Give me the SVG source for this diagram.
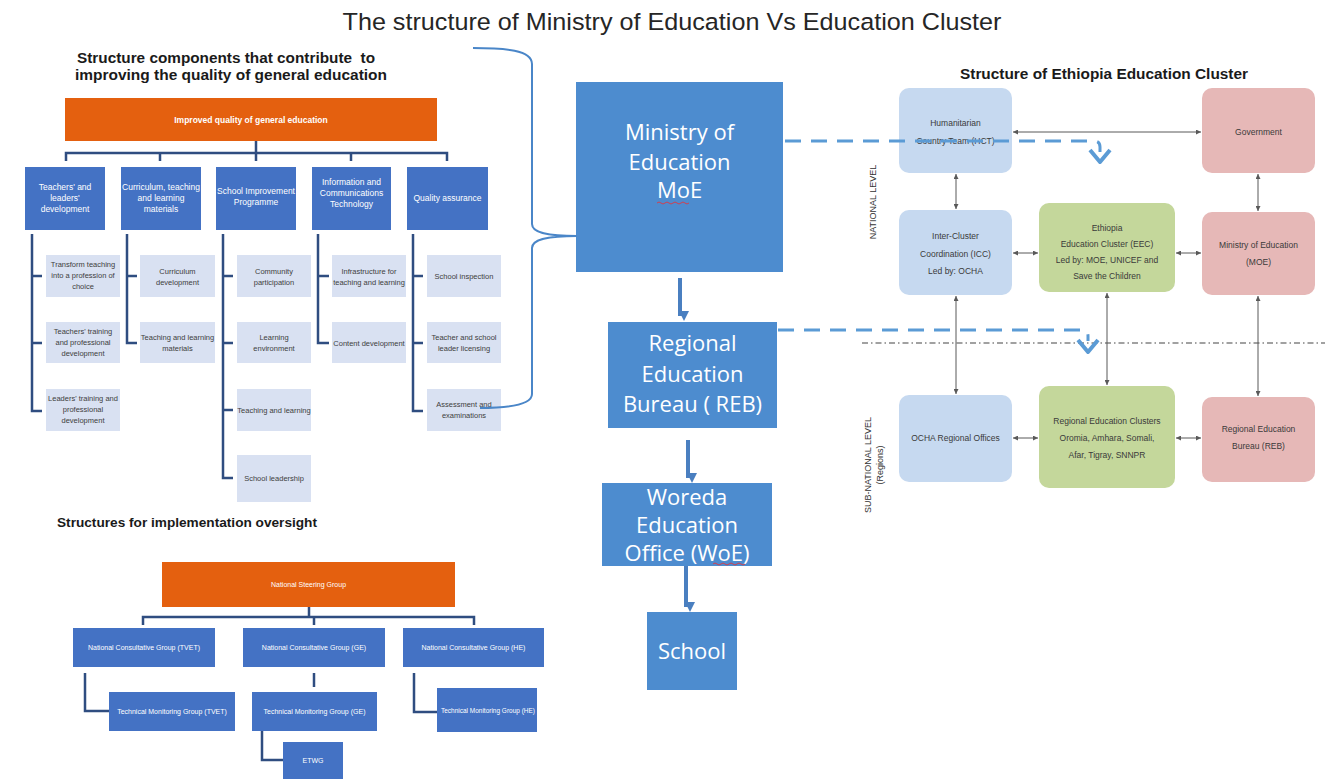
<svg xmlns="http://www.w3.org/2000/svg" width="1341" height="783" viewBox="0 0 1341 783">
<style>
.t{font-family:"Liberation Sans",Arial,sans-serif}
.title{font-size:24.5px;fill:#262626}
.hdr{font-size:14px;font-weight:bold;fill:#1a1a1a}
.or{fill:#e4600f}
.bb{fill:#4472c4}
.sb{fill:#d9e1f2}
.wt{font-size:8.5px;fill:#fff;text-anchor:middle}
.wto{font-size:8.5px;fill:#fff;text-anchor:middle;font-weight:bold}
.st{font-size:7.5px;fill:#404040;text-anchor:middle}
.ow{font-size:7px;fill:#fff;text-anchor:middle}
.cb{fill:#4d8ccf}
.ct{font-family:"Open Sans","Liberation Sans",sans-serif;font-size:22px;fill:#fff;text-anchor:middle}
.lb{fill:#c6d9f0}
.gr{fill:#c4d79b}
.pk{fill:#e6b8b7}
.rt{font-size:8.5px;fill:#3a3a3a;text-anchor:middle}
.lvl{font-size:9px;fill:#333;text-anchor:middle}
.tree{stroke:#2f4d80;stroke-width:2.5;fill:none}
.thin{stroke:#595959;stroke-width:1;fill:none;marker-start:url(#ah);marker-end:url(#ah)}
.dash{stroke:#5b9bd5;stroke-width:3;fill:none;stroke-dasharray:16 10}
.chev{stroke:#5b9bd5;stroke-width:4;fill:none;stroke-linejoin:round}
.down{stroke:#4a7fc0;stroke-width:4;fill:none}
</style>
<defs>
<marker id="ah" viewBox="0 0 10 10" refX="10" refY="5" markerWidth="5" markerHeight="5" orient="auto-start-reverse" markerUnits="userSpaceOnUse">
<path d="M0,0 L10,5 L0,10 z" fill="#595959"/>
</marker>
<marker id="dn" viewBox="0 0 10 10" refX="5" refY="9" markerWidth="12" markerHeight="10" orient="auto" markerUnits="userSpaceOnUse">
<path d="M0,0 L10,5 L0,10 z" fill="#4a7fc0"/>
</marker>
</defs>
<rect width="1341" height="783" fill="#fff"/>

<text class="t title" x="672" y="30" text-anchor="middle" textLength="659" lengthAdjust="spacingAndGlyphs">The structure of Ministry of Education Vs Education Cluster</text>

<!-- Left header -->
<text class="t hdr" x="77" y="63" xml:space="preserve" textLength="298" lengthAdjust="spacingAndGlyphs">Structure components that contribute  to</text>
<text class="t hdr" x="75" y="80" textLength="312" lengthAdjust="spacingAndGlyphs">improving the quality of general education</text>

<!-- Left tree nodes -->
<g id="n-improved"><rect class="or" x="65" y="98" width="372" height="43"/><text class="t wto" x="251" y="123">Improved quality of general education</text></g>

<g id="n-col1"><rect class="bb" x="25" y="167" width="80" height="63"/>
<text class="t wt" x="65" y="190">Teachers' and</text><text class="t wt" x="65" y="201">leaders'</text><text class="t wt" x="65" y="212">development</text></g>
<g id="n-col2"><rect class="bb" x="121" y="167" width="80" height="63"/>
<text class="t wt" x="161" y="190">Curriculum, teaching</text><text class="t wt" x="161" y="201">and learning</text><text class="t wt" x="161" y="212">materials</text></g>
<g id="n-col3"><rect class="bb" x="216" y="167" width="80" height="63"/>
<text class="t wt" x="256" y="194">School Improvement</text><text class="t wt" x="256" y="205">Programme</text></g>
<g id="n-col4"><rect class="bb" x="312" y="167" width="79" height="63"/>
<text class="t wt" x="351.5" y="185">Information and</text><text class="t wt" x="351.5" y="196">Communications</text><text class="t wt" x="351.5" y="207">Technology</text></g>
<g id="n-col5"><rect class="bb" x="407" y="167" width="81" height="63"/>
<text class="t wt" x="447.5" y="201">Quality assurance</text></g>

<g id="n-c1a"><rect class="sb" x="46" y="255" width="74" height="42"/><text class="t st" x="83" y="267">Transform teaching</text><text class="t st" x="83" y="278">into a profession of</text><text class="t st" x="83" y="289">choice</text></g>
<g id="n-c1b"><rect class="sb" x="46" y="322" width="74" height="41"/><text class="t st" x="83" y="334">Teachers' training</text><text class="t st" x="83" y="345">and professional</text><text class="t st" x="83" y="356">development</text></g>
<g id="n-c1c"><rect class="sb" x="46" y="389" width="74" height="42"/><text class="t st" x="83" y="401">Leaders' training and</text><text class="t st" x="83" y="412">professional</text><text class="t st" x="83" y="423">development</text></g>

<g id="n-c2a"><rect class="sb" x="140" y="255" width="75" height="42"/><text class="t st" x="177.5" y="274">Curriculum</text><text class="t st" x="177.5" y="285">development</text></g>
<g id="n-c2b"><rect class="sb" x="140" y="322" width="75" height="41"/><text class="t st" x="177.5" y="340">Teaching and learning</text><text class="t st" x="177.5" y="351">materials</text></g>

<g id="n-c3a"><rect class="sb" x="237" y="255" width="74" height="42"/><text class="t st" x="274" y="274">Community</text><text class="t st" x="274" y="285">participation</text></g>
<g id="n-c3b"><rect class="sb" x="237" y="322" width="74" height="41"/><text class="t st" x="274" y="340">Learning</text><text class="t st" x="274" y="351">environment</text></g>
<g id="n-c3c"><rect class="sb" x="237" y="389" width="74" height="42"/><text class="t st" x="274" y="413">Teaching and learning</text></g>
<g id="n-c3d"><rect class="sb" x="237" y="455" width="74" height="47"/><text class="t st" x="274" y="481">School leadership</text></g>

<g id="n-c4a"><rect class="sb" x="332" y="255" width="74" height="42"/><text class="t st" x="369" y="274">Infrastructure for</text><text class="t st" x="369" y="285">teaching and learning</text></g>
<g id="n-c4b"><rect class="sb" x="332" y="322" width="74" height="41"/><text class="t st" x="369" y="346">Content development</text></g>

<g id="n-c5a"><rect class="sb" x="427" y="255" width="74" height="42"/><text class="t st" x="464" y="279">School inspection</text></g>
<g id="n-c5b"><rect class="sb" x="427" y="322" width="74" height="41"/><text class="t st" x="464" y="340">Teacher and school</text><text class="t st" x="464" y="351">leader licensing</text></g>
<g id="n-c5c"><rect class="sb" x="427" y="389" width="74" height="42"/><text class="t st" x="464" y="407">Assessment and</text><text class="t st" x="464" y="418">examinations</text></g>

<!-- Oversight -->
<text class="t" x="57" y="527" font-size="13" font-weight="bold" fill="#1a1a1a" textLength="260" lengthAdjust="spacingAndGlyphs">Structures for implementation oversight</text>
<g id="n-nsg"><rect class="or" x="162" y="562" width="293" height="45"/><text class="t ow" x="308.5" y="587">National Steering Group</text></g>
<g id="n-ncg-tvet"><rect class="bb" x="73" y="628" width="142" height="39"/><text class="t ow" x="144" y="650">National Consultative Group (TVET)</text></g>
<g id="n-ncg-ge"><rect class="bb" x="243" y="628" width="142" height="39"/><text class="t ow" x="314" y="650">National Consultative Group (GE)</text></g>
<g id="n-ncg-he"><rect class="bb" x="403" y="628" width="141" height="39"/><text class="t ow" x="473.5" y="650">National Consultative Group (HE)</text></g>
<g id="n-tmg-tvet"><rect class="bb" x="109" y="692" width="126" height="39"/><text class="t ow" x="172" y="714">Technical Monitoring Group (TVET)</text></g>
<g id="n-tmg-ge"><rect class="bb" x="252" y="692" width="125" height="39"/><text class="t ow" x="314.5" y="714">Technical Monitoring Group (GE)</text></g>
<g id="n-tmg-he"><rect class="bb" x="437" y="688" width="100" height="44"/><text class="t ow" x="488" y="713" textLength="94" lengthAdjust="spacingAndGlyphs">Technical Monitoring Group (HE)</text></g>
<g id="n-etwg"><rect class="bb" x="283" y="742" width="60" height="37"/><text class="t ow" x="313" y="763">ETWG</text></g>

<!-- Center stack -->
<g id="n-moe"><rect class="cb" x="576" y="82" width="207" height="190"/>
<text class="ct" x="679.5" y="140">Ministry of</text><text class="ct" x="679.5" y="170">Education</text><text class="ct" x="679.5" y="198">MoE</text>
<path d="M657 203 q2 -2 4 0 t4 0 t4 0 t4 0 t4 0 t4 0 t4 0 t4 0" stroke="#d04050" stroke-width="1" fill="none"/></g>
<g id="n-reb"><rect class="cb" x="608" y="322" width="169" height="106"/>
<text class="ct" x="692.5" y="351">Regional</text><text class="ct" x="692.5" y="382">Education</text><text class="ct" x="692.5" y="412">Bureau ( REB)</text></g>
<g id="n-woe"><rect class="cb" x="602" y="483" width="170" height="83"/>
<text class="ct" x="687" y="505" font-size="20">Woreda</text><text class="ct" x="687" y="533" font-size="20">Education</text><text class="ct" x="687" y="561" font-size="20">Office (WoE)</text>
<path d="M713 564 q2 -2 4 0 t4 0 t4 0 t4 0 t4 0 t4 0 t4 0 t4 0" stroke="#d04050" stroke-width="1" fill="none"/></g>
<g id="n-school"><rect class="cb" x="647" y="612" width="90" height="78"/>
<text class="ct" x="692" y="659">School</text></g>

<!-- Right panel -->
<text class="t" x="1104" y="79" font-size="14" font-weight="bold" fill="#1a1a1a" text-anchor="middle" textLength="288" lengthAdjust="spacingAndGlyphs">Structure of Ethiopia Education Cluster</text>
<text class="t lvl" transform="translate(876 202) rotate(-90)">NATIONAL LEVEL</text>
<text class="t lvl" transform="translate(871 465) rotate(-90)">SUB-NATIONAL LEVEL</text>
<text class="t lvl" transform="translate(883 465) rotate(-90)">(Regions)</text>

<g id="n-hct"><rect class="lb" x="899" y="88" width="113" height="85" rx="10"/><text class="t rt" x="955.5" y="126">Humanitarian</text><text class="t rt" x="955.5" y="144">Country Team (HCT)</text></g>
<g id="n-gov"><rect class="pk" x="1202" y="88" width="113" height="85" rx="10"/><text class="t rt" x="1258.5" y="135">Government</text></g>
<g id="n-icc"><rect class="lb" x="899" y="210" width="113" height="85" rx="10"/><text class="t rt" x="955.5" y="239">Inter-Cluster</text><text class="t rt" x="955.5" y="257">Coordination (ICC)</text><text class="t rt" x="955.5" y="274">Led by: OCHA</text></g>
<g id="n-eec"><rect class="gr" x="1039" y="203" width="136" height="89" rx="10"/><text class="t rt" x="1107" y="231">Ethiopia</text><text class="t rt" x="1107" y="247">Education Cluster (EEC)</text><text class="t rt" x="1107" y="263">Led by: MOE, UNICEF and</text><text class="t rt" x="1107" y="279">Save the Children</text></g>
<g id="n-moe2"><rect class="pk" x="1202" y="212" width="113" height="83" rx="10"/><text class="t rt" x="1258.5" y="248">Ministry of Education</text><text class="t rt" x="1258.5" y="265">(MOE)</text></g>
<g id="n-ocha"><rect class="lb" x="899" y="395" width="113" height="87" rx="10"/><text class="t rt" x="955.5" y="441">OCHA Regional Offices</text></g>
<g id="n-rec"><rect class="gr" x="1039" y="386" width="136" height="102" rx="10"/><text class="t rt" x="1107" y="424">Regional Education Clusters</text><text class="t rt" x="1107" y="441">Oromia, Amhara, Somali,</text><text class="t rt" x="1107" y="458">Afar, Tigray, SNNPR</text></g>
<g id="n-reb2"><rect class="pk" x="1202" y="397" width="113" height="85" rx="10"/><text class="t rt" x="1258.5" y="432">Regional Education</text><text class="t rt" x="1258.5" y="449">Bureau (REB)</text></g>

<g id="connectors">
<!-- left tree top -->
<path class="tree" d="M66 161 V153 H447 V161 M160 153 V161 M256 141 V161 M351 153 V161"/>
<!-- columns -->
<path class="tree" d="M32 234 V411 H42 M32 276 H42 M32 343 H42"/>
<path class="tree" d="M127 234 V343 H137 M127 276 H137"/>
<path class="tree" d="M223 234 V478 H233 M223 276 H233 M223 343 H233 M223 410 H233"/>
<path class="tree" d="M318 234 V343 H329 M318 276 H329"/>
<path class="tree" d="M413 234 V411 H423 M413 276 H423 M413 343 H423"/>
<!-- oversight -->
<path class="tree" d="M143 625 V617 H474 V625 M314 617 V625 M309 607 V617"/>
<path class="tree" d="M85 673 V711 H109"/>
<path class="tree" d="M314 673 V687"/>
<path class="tree" d="M262 731 V760 H283"/>
<path class="tree" d="M414 673 V712 H437"/>
<!-- brace -->
<path d="M473 48 C505 48 532 50 532 64 V224 C532 232 545 236 577 236 C545 236 532 240 532 248 V394 C532 404 512 408 480 408" stroke="#4a86c8" stroke-width="2" fill="none"/>
<!-- center down arrows -->
<path class="down" d="M680 278 V316" marker-end="url(#dn)"/>
<path class="down" d="M688 440 V478" marker-end="url(#dn)"/>
<path class="down" d="M686 566 V607" marker-end="url(#dn)"/>
<!-- level divider -->
<line x1="862" y1="343" x2="1325" y2="343" stroke="#444" stroke-width="1.2" stroke-dasharray="6 3 1.5 3"/>
<!-- right thin arrows -->
<path class="thin" d="M1013 132 H1201"/>
<path class="thin" d="M956 174 V209"/>
<path class="thin" d="M1258 174 V211"/>
<path class="thin" d="M1013 253 H1038"/>
<path class="thin" d="M1176 253 H1201"/>
<path class="thin" d="M956 296 V394"/>
<path class="thin" d="M1107 293 V385"/>
<path class="thin" d="M1258 296 V396"/>
<path class="thin" d="M1013 438 H1038"/>
<path class="thin" d="M1176 438 H1201"/>
<!-- dashed -->
<path class="dash" d="M785 141 H1094 Q1100 141 1100 147 V152"/>
<polyline class="chev" points="1090,150 1100,162 1110,150"/>
<path class="dash" d="M778 330 H1082 Q1088 330 1088 336 V341"/>
<polyline class="chev" points="1078,340 1088,352 1098,340"/>
</g>
</svg>
